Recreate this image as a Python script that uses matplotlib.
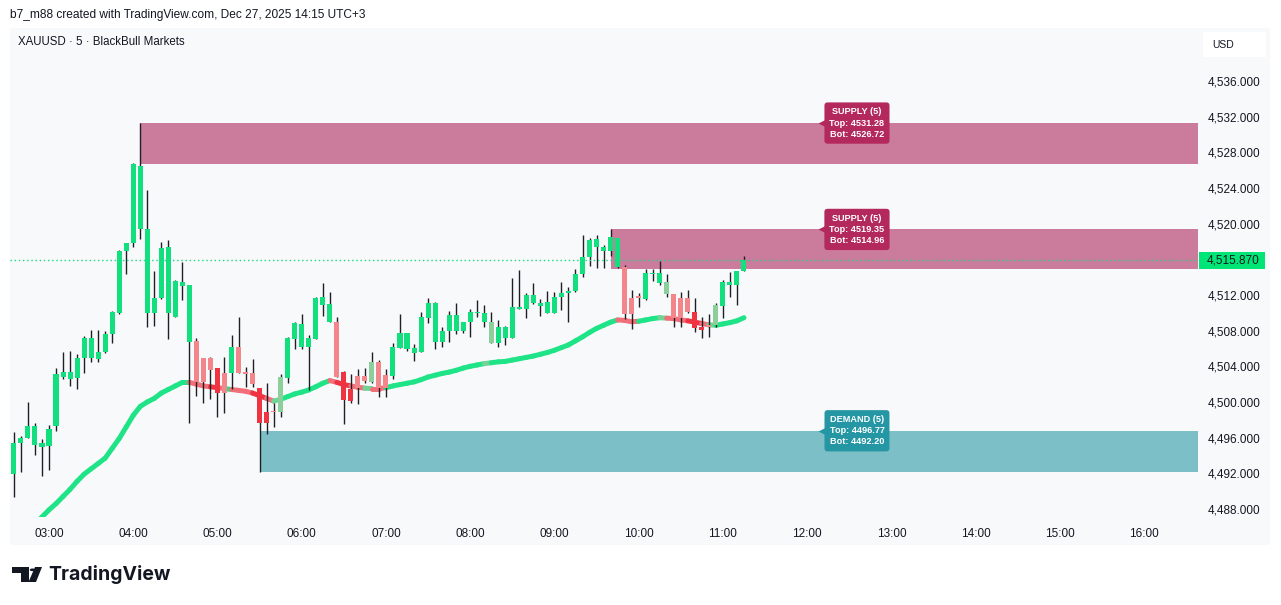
import numpy as np
import matplotlib.pyplot as plt
from matplotlib.collections import LineCollection
from matplotlib.patches import Rectangle, Polygon, Circle
from matplotlib.transforms import blended_transform_factory

# XAUUSD 5 min candles, 02:35 -> 11:15
start_minute = 2 * 60 + 35
opens = [4491.89, 4495.37, 4496.00, 4495.18, 4495.00, 4495.10, 4497.35, 4502.84, 4502.62, 4502.73,
         4504.90, 4504.90, 4504.79, 4505.57, 4507.59, 4509.94, 4516.93, 4517.87, 4519.37, 4509.94,
         4509.94, 4511.70, 4509.94, 4509.57, 4513.05, 4506.69, 4506.84, 4504.90, 4504.90, 4503.78,
         4503.22, 4503.22, 4506.13, 4503.33, 4503.22, 4501.53, 4498.84, 4499.00, 4498.92, 4502.73,
         4507.07, 4506.21, 4506.21, 4507.07, 4510.88, 4508.93, 4508.93, 4503.33, 4501.46, 4502.92,
         4502.92, 4502.28, 4504.45, 4503.03, 4502.95, 4506.09, 4505.94, 4505.53, 4505.65, 4509.38,
         4506.77, 4506.77, 4507.96, 4508.00, 4508.00, 4508.93, 4510.00, 4508.93, 4506.65, 4506.58,
         4507.14, 4507.14, 4510.43, 4510.43, 4511.07, 4510.81, 4509.94, 4509.94, 4511.74, 4512.19,
         4512.49, 4514.32, 4516.30, 4517.35, 4516.97, 4516.97, 4515.10, 4515.18, 4511.62, 4511.81,
         4511.55, 4514.36, 4513.38, 4512.08, 4512.11, 4511.62, 4511.62, 4510.13, 4508.37, 4508.63,
         4508.63, 4510.81, 4513.12, 4513.12, 4514.69]
closes = [4495.37, 4495.93, 4497.31, 4497.31, 4495.37, 4496.97, 4503.10, 4503.33, 4503.33, 4504.90,
          4507.14, 4507.14, 4505.57, 4507.59, 4510.13, 4516.93, 4517.80, 4526.65, 4526.47, 4519.40,
          4511.62, 4517.31, 4517.42, 4513.61, 4513.42, 4513.12, 4502.28, 4502.28, 4503.59, 4500.97,
          4500.97, 4506.13, 4503.29, 4503.14, 4502.02, 4497.61, 4497.61, 4498.90, 4502.84, 4507.14,
          4508.82, 4508.75, 4507.14, 4511.62, 4511.74, 4510.95, 4502.84, 4500.22, 4500.11, 4501.53,
          4502.39, 4504.45, 4501.53, 4501.61, 4506.13, 4507.78, 4507.78, 4506.09, 4509.50, 4511.14,
          4511.14, 4507.96, 4509.76, 4509.76, 4508.93, 4510.13, 4510.10, 4509.94, 4508.93, 4508.37,
          4508.37, 4510.69, 4510.62, 4512.00, 4512.00, 4511.14, 4511.18, 4511.74, 4512.26, 4512.49,
          4514.36, 4516.30, 4518.17, 4518.28, 4517.42, 4518.47, 4518.36, 4509.87, 4509.87, 4511.70,
          4514.43, 4514.50, 4514.51, 4513.42, 4509.38, 4509.38, 4510.13, 4508.26, 4508.07, 4508.45,
          4510.88, 4513.42, 4513.50, 4514.69, 4515.87]
highs = [4496.67, 4496.19, 4499.96, 4497.61, 4495.80, 4497.42, 4503.78, 4505.65, 4505.76, 4505.35,
         4507.40, 4508.07, 4508.07, 4508.00, 4510.20, 4517.05, 4517.87, 4526.77, 4531.28, 4523.78,
         4514.69, 4517.91, 4518.17, 4513.68, 4515.74, 4513.12, 4507.22, 4504.90, 4505.09, 4503.78,
         4505.09, 4507.51, 4509.50, 4503.96, 4504.79, 4501.53, 4502.09, 4499.85, 4503.10, 4507.33,
         4508.93, 4509.87, 4507.51, 4511.81, 4513.39, 4512.30, 4509.49, 4503.47, 4503.10, 4503.70,
         4503.78, 4505.65, 4504.71, 4503.66, 4506.58, 4509.87, 4507.78, 4506.47, 4510.13, 4511.63,
         4511.25, 4508.37, 4510.24, 4511.14, 4508.93, 4510.39, 4511.44, 4510.88, 4510.13, 4509.20,
         4508.52, 4513.87, 4514.80, 4512.26, 4513.39, 4511.55, 4512.49, 4512.37, 4513.50, 4512.93,
         4514.88, 4518.73, 4518.43, 4518.73, 4517.61, 4519.35, 4518.36, 4515.37, 4512.56, 4512.26,
         4514.88, 4514.91, 4515.85, 4514.36, 4512.11, 4512.30, 4512.56, 4511.63, 4509.49, 4509.87,
         4511.14, 4513.68, 4514.54, 4514.69, 4516.41]
lows = [4489.38, 4492.19, 4496.00, 4494.06, 4491.74, 4492.37, 4496.75, 4502.62, 4501.79, 4501.42,
        4503.22, 4504.45, 4504.45, 4505.50, 4506.58, 4509.90, 4514.32, 4517.42, 4518.24, 4508.45,
        4508.52, 4511.55, 4507.03, 4509.57, 4511.44, 4497.61, 4500.67, 4499.85, 4500.30, 4498.28,
        4498.80, 4501.42, 4503.29, 4501.72, 4501.72, 4492.20, 4496.41, 4497.16, 4498.28, 4502.17,
        4505.91, 4505.91, 4501.35, 4507.07, 4509.68, 4508.93, 4502.84, 4497.50, 4499.93, 4499.74,
        4502.17, 4502.09, 4500.60, 4500.60, 4502.54, 4506.09, 4505.76, 4504.64, 4505.65, 4508.82,
        4505.91, 4506.13, 4506.77, 4507.59, 4507.78, 4507.33, 4509.49, 4508.45, 4506.58, 4506.13,
        4506.39, 4507.14, 4510.43, 4509.38, 4511.00, 4509.68, 4509.94, 4509.94, 4510.32, 4508.93,
        4512.37, 4514.06, 4515.29, 4514.99, 4514.99, 4516.41, 4514.99, 4509.27, 4508.15, 4510.62,
        4511.44, 4513.61, 4513.12, 4511.81, 4508.45, 4508.45, 4509.94, 4507.89, 4507.22, 4507.33,
        4508.45, 4509.38, 4511.81, 4510.88, 4514.69]
# candle colouring from the trend indicator: G strong up, g weak up, P weak down, R strong down
candle_state = ("GGGGGGGGGGGGGGGGGGGGGGGGGG" "PPPRPGPPPRRPgGGGGGGGPRRPPgPP"
                "GGGGGGGGGGGGGGgGG" "GGGGGGGGGGGGGGGG" "PPPGGGgPPPRRPgGGGG")
trend_line = [4483.9, 4484.7, 4485.5, 4486.3, 4487.1, 4487.9, 4488.6, 4489.4, 4490.2, 4491.1,
              4491.9, 4492.5, 4493.1, 4493.7, 4494.8, 4495.9, 4497.2, 4498.5, 4499.5, 4500.0,
              4500.4, 4501.0, 4501.4, 4501.8, 4502.2, 4502.2, 4502.0, 4501.8, 4501.7, 4501.6,
              4501.5, 4501.4, 4501.3, 4501.2, 4501.0, 4500.7, 4500.4, 4500.1, 4500.3, 4500.6,
              4500.9, 4501.1, 4501.35, 4501.7, 4502.1, 4502.4, 4502.2, 4501.95, 4501.8, 4501.65,
              4501.55, 4501.5, 4501.5, 4501.6, 4501.8, 4501.95, 4502.1, 4502.25, 4502.5, 4502.8,
              4503.0, 4503.2, 4503.35, 4503.55, 4503.8, 4504.0, 4504.15, 4504.3, 4504.4, 4504.5,
              4504.55, 4504.7, 4504.85, 4505.0, 4505.15, 4505.35, 4505.55, 4505.8, 4506.1, 4506.4,
              4506.85, 4507.3, 4507.8, 4508.25, 4508.6, 4508.95, 4509.2, 4509.15, 4509.0, 4509.05,
              4509.2, 4509.35, 4509.45, 4509.4, 4509.35, 4509.2, 4509.1, 4508.95, 4508.8, 4508.65,
              4508.6, 4508.75, 4508.9, 4509.1, 4509.45]

hour_labels = ["03:00", "04:00", "05:00", "06:00", "07:00", "08:00", "09:00",
               "10:00", "11:00", "12:00", "13:00", "14:00", "15:00", "16:00"]
price_ticks = [4488, 4492, 4496, 4500, 4504, 4508, 4512, 4516, 4520, 4524, 4528, 4532, 4536]

zone_kinds = ["SUPPLY", "SUPPLY", "DEMAND"]
zone_tops = [4531.28, 4519.35, 4496.77]
zone_bots = [4526.72, 4514.96, 4492.20]
zone_start = [18, 85, 35]   # candle index where each zone starts
last_price = 4515.87

body_col = {"G": "#12e07e", "g": "#8ccf9c", "P": "#f2868b", "R": "#ef3340"}
line_col = {"G": "#1fe487", "g": "#6fd495", "P": "#f26f79", "R": "#ee3442"}
zone_fill = {"SUPPLY": "#cb7b9b", "DEMAND": "#7dbfc7"}
zone_box = {"SUPPLY": "#b3285d", "DEMAND": "#2596a4"}

W, H = 1281, 605
def fx(px):
    return px / W
def fy(py):
    return 1 - py / H

plt.rcParams['font.family'] = ['Liberation Sans', 'DejaVu Sans']
fig = plt.figure(figsize=(W / 100, H / 100), dpi=100)
fig.patch.set_facecolor("white")
bg = "#f8f9fa"
fig.patches.append(Rectangle((fx(10), fy(545)), fx(1270) - fx(10), fy(28) - fy(545),
                             transform=fig.transFigure, fc=bg, ec="none", zorder=-10))

ax = fig.add_axes([fx(10), fy(517), (1198 - 10) / W, (517 - 28) / H])
ax.set_facecolor(bg)
for s in ax.spines.values():
    s.set_visible(False)

n = len(opens)
idx = np.arange(n)
o = np.array(opens); c = np.array(closes)
lo = np.minimum(o, c); hi = np.maximum(o, c)
hgt = np.maximum(hi - lo, 0.13)

# zones
for kind, top, bot, st in zip(zone_kinds, zone_tops, zone_bots, zone_start):
    ax.add_patch(Rectangle((st, bot), 200, top - bot, fc=zone_fill[kind], ec="none", zorder=1))

# trend line
pts = np.column_stack([idx, trend_line])
segs = np.stack([pts[:-1], pts[1:]], axis=1)
lc = LineCollection(segs, colors=[line_col[k] for k in candle_state[1:]], linewidths=3.6,
                    capstyle="round", zorder=2)
ax.add_collection(lc)

# candles
ax.vlines(idx, lows, highs, color="#1e1e24", lw=1, zorder=3)
ax.bar(idx, hgt, bottom=lo, width=0.72, color=[body_col[k] for k in candle_state],
       edgecolor="none", zorder=4)

# last price line
ax.axhline(last_price, color="#16d982", lw=1, ls=(0, (1, 2)), zorder=5)

# zone labels
label_x = 120.1
for kind, top, bot in zip(zone_kinds, zone_tops, zone_bots):
    txt = f"{kind} (5)\nTop: {top:.2f}\nBot: {bot:.2f}"
    ax.text(label_x, top, txt, ha="center", va="center", color="white", fontsize=6.6,
            fontweight="bold", linespacing=1.3, zorder=7,
            bbox=dict(boxstyle="round,pad=0.55,rounding_size=0.35", fc=zone_box[kind], ec="none"))
    ax.plot(label_x - 5.0, top, marker="<", ms=6, color=zone_box[kind], mec="none", zorder=7)

ax.set_xlim(-0.556, 168.68)
ax.set_ylim(4487.1, 4541.94)

hour_pos = [(int(h[:2]) * 60 - start_minute) / 5 for h in hour_labels]
ax.set_xticks(hour_pos)
ax.set_xticklabels(hour_labels, fontsize=8.5, color="#131722")
ax.tick_params(axis="x", length=0, pad=8)
ax.yaxis.tick_right()
ax.set_yticks(price_ticks)
ax.set_yticklabels([f"{p:,.3f}" for p in price_ticks], fontsize=8.5, color="#131722")
ax.tick_params(axis="y", length=0, pad=7)

# last price tag on the scale
tr = blended_transform_factory(ax.transAxes, ax.transData)
ax.add_patch(Rectangle((1 + 1 / 1188, last_price - 1.0), 66 / 1188, 2.0, transform=tr,
                       fc="#00e676", ec="none", clip_on=False, zorder=8))
ax.text(1 + 9 / 1188, last_price, f"{last_price:,.3f}", transform=tr, ha="left", va="center",
        fontsize=8.5, color="#131722", zorder=9)

# header texts
fig.text(fx(10), fy(15), "b7_m88 created with TradingView.com, Dec 27, 2025 14:15 UTC+3",
         fontsize=8.6, color="#131722", va="center")
fig.text(fx(18), fy(42), "XAUUSD \u00b7 5 \u00b7 BlackBull Markets", fontsize=8.3,
         color="#131722", va="center")
fig.patches.append(Rectangle((fx(1203), fy(57)), fx(1266) - fx(1203), fy(32) - fy(57),
                             transform=fig.transFigure, fc="white", ec="none", zorder=1))
fig.text(fx(1212), fy(44.5), "USD", fontsize=7.5, color="#131722", va="center")

# TradingView logo
logo = "#131722"
fig.patches.append(Polygon([(fx(12), fy(567)), (fx(29), fy(567)), (fx(29), fy(582)),
                            (fx(21), fy(582)), (fx(21), fy(572.5)), (fx(12), fy(572.5))],
                           closed=True, transform=fig.transFigure, fc=logo, ec="none"))
fig.patches.append(Circle((fx(32.5), fy(569.8)), 2.8 / W, transform=fig.transFigure,
                          fc=logo, ec="none"))
fig.patches.append(Polygon([(fx(35), fy(567)), (fx(42), fy(567)), (fx(36), fy(582)),
                            (fx(28.5), fy(582))],
                           closed=True, transform=fig.transFigure, fc=logo, ec="none"))
fig.text(fx(48), fy(575), "TradingView", fontsize=14, fontweight="bold", family="Inter",
         color=logo, va="center")

fig.savefig("out.png", dpi=100, facecolor="white")
